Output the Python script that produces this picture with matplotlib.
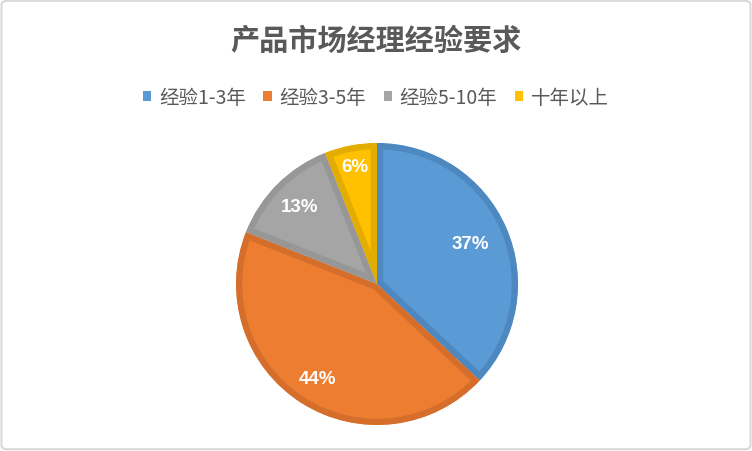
'''产品市场经理经验要求 pie chart'''
import numpy as np
import matplotlib
matplotlib.use('Agg')
import matplotlib.pyplot as plt
from matplotlib.patches import Patch, FancyBboxPatch

plt.rcParams['font.family'] = ['Noto Sans CJK SC', 'DejaVu Sans']

# data
labels = ['经验1-3年', '经验3-5年', '经验5-10年', '十年以上']
values = [37, 44, 13, 6]
title = '产品市场经理经验要求'

# style
colors = ['#5B9BD5', '#ED7D31', '#A5A5A5', '#FFC000']
edges = ['#4E88C0', '#D56E2B', '#979797', '#E3AC00']
lab_r = [0.72, 0.79, 0.78, 0.85]
txt_c = '#595959'

fig = plt.figure(figsize=(7.52, 4.52), dpi=100)

# outer frame
frame = FancyBboxPatch((0.002, 0.004), 0.996, 0.992, boxstyle='round,pad=0,rounding_size=0.008',
                       transform=fig.transFigure, fc='none', ec='#D9D9D9', lw=1.5, zorder=-1)
fig.patches.append(frame)

fig.text(0.5, 1 - 41 / 452, title, ha='center', va='center', fontsize=21,
         fontweight='bold', color=txt_c)

# pie axes: centre (377, 285) px, radius 141 px
cx, cy, R = 377, 285, 141
ax = fig.add_axes([(cx - R) / 752, (452 - cy - R) / 452, 2 * R / 752, 2 * R / 452])
wedges, _ = ax.pie(values, colors=colors, startangle=90, counterclock=False, radius=1)
for w, ec in zip(wedges, edges):
    w.set_edgecolor(ec)
    w.set_linewidth(9)
    w.set_clip_on(True)
    w.set_clip_path(w)  # keep the stroke inside the slice
ax.set_xlim(-1, 1)
ax.set_ylim(-1, 1)

start = 90.0
tot = sum(values)
for v, r in zip(values, lab_r):
    mid = np.deg2rad(start - 360 * v / tot / 2)
    start -= 360 * v / tot
    ax.text(r * np.cos(mid), r * np.sin(mid), '%d%%' % round(100 * v / tot),
            ha='center', va='center', color='white', fontsize=13.5, fontweight='bold',
            family=['Liberation Sans', 'DejaVu Sans'])

handles = [Patch(fc=c, ec='none') for c in colors]
leg = fig.legend(handles, labels, loc='center', bbox_to_anchor=(0.5, 1 - 98 / 452), ncol=4,
                 frameon=False, fontsize=14, handlelength=0.42, handleheight=0.42,
                 handletextpad=0.4, columnspacing=0.9, labelcolor=txt_c)

fig.savefig('out.png', dpi=100)
